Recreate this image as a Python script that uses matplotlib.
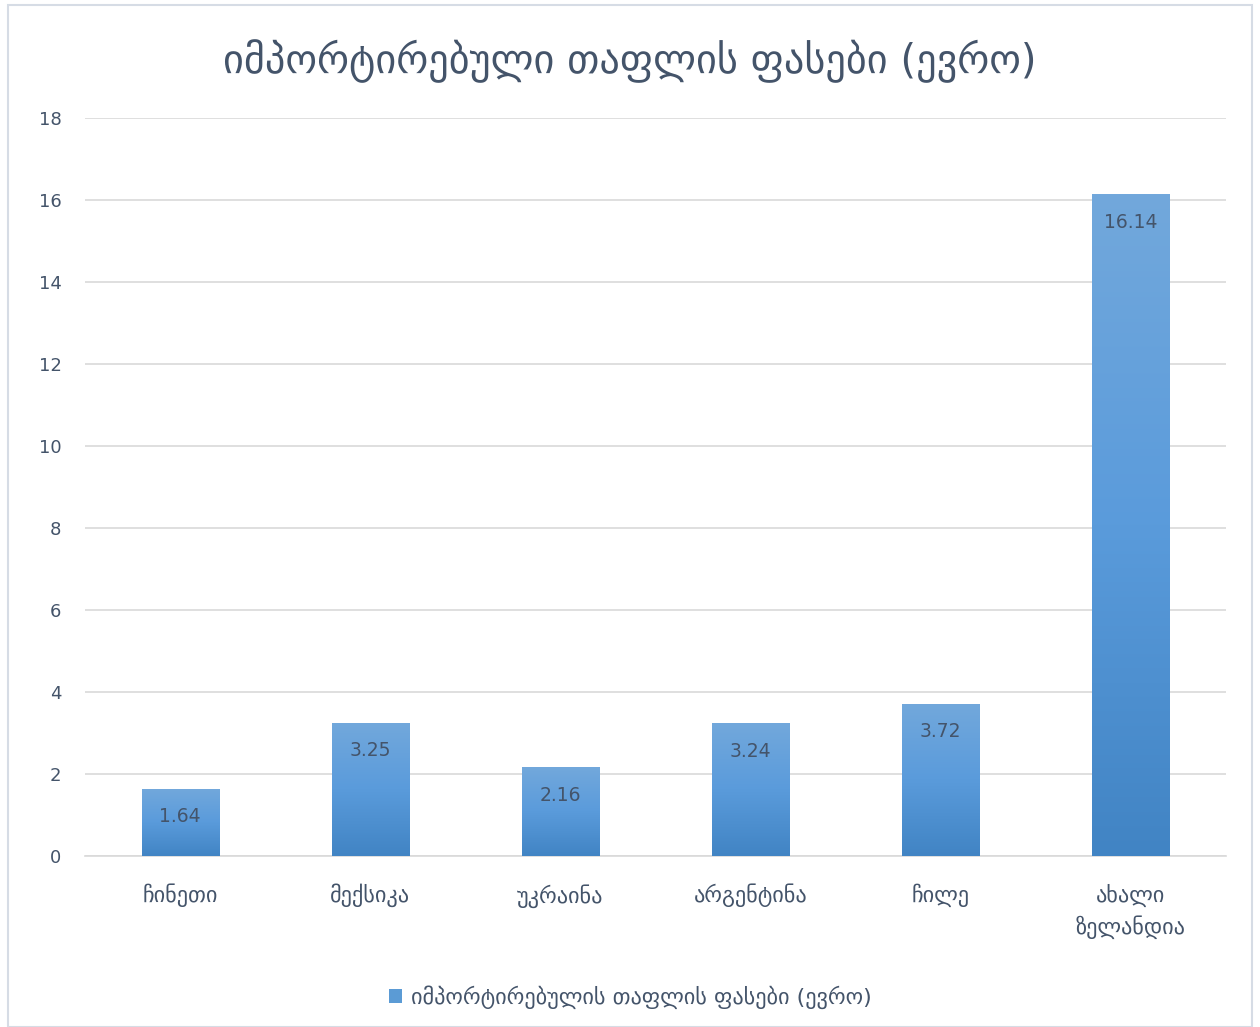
import numpy as np
import matplotlib.pyplot as plt
from matplotlib.patches import Rectangle
from matplotlib.colors import LinearSegmentedColormap

plt.rcParams['font.family'] = ['DejaVu Sans']

categories = ['ჩინეთი', 'მექსიკა', 'უკრაინა', 'არგენტინა', 'ჩილე', 'ახალი\nზელანდია']
prices = [1.64, 3.25, 2.16, 3.24, 3.72, 16.14]
title = 'იმპორტირებული თაფლის ფასები (ევრო)'
legend_label = 'იმპორტირებულის თაფლის ფასები (ევრო)'

text_col = '#44546a'
grid_col = '#d9d9d9'

fig = plt.figure(figsize=(12.6, 10.27), dpi=100)
ax = fig.add_axes([0.0675, 0.1665, 0.9055, 0.7185])

# outer border
fig.patches.append(Rectangle((0.006, 0.0), 0.988, 0.995, transform=fig.transFigure,
                             fill=False, edgecolor='#d6dce5', linewidth=1.5))

x = np.arange(len(categories))
bars = ax.bar(x, prices, width=0.405, color='#5b9bd5', zorder=2)

cmap = LinearSegmentedColormap.from_list('g', ['#4184c4', '#5a9bdb', '#72a8dc'])
grad = np.linspace(0, 1, 256).reshape(-1, 1)
for b in bars:
    bx, by = b.get_x(), b.get_y()
    w, h = b.get_width(), b.get_height()
    im = ax.imshow(grad, cmap=cmap, origin='lower', aspect='auto',
                   extent=[bx, bx + w, by, by + h], zorder=3)
    im.set_clip_path(b)
    ax.text(bx + w / 2, h - 0.68, f'{h:.2f}', ha='center', va='center',
            fontsize=13.5, color=text_col, zorder=4)

ax.set_xlim(-0.5, len(categories) - 0.5)
ax.set_ylim(0, 18)
ax.set_yticks(range(0, 19, 2))
ax.yaxis.grid(True, color=grid_col, linewidth=1.2, zorder=0)
ax.set_axisbelow(True)
for s in ['top', 'right', 'left']:
    ax.spines[s].set_visible(False)
ax.spines['bottom'].set_color(grid_col)
ax.spines['bottom'].set_linewidth(1.2)
ax.tick_params(length=0, labelsize=13, colors=text_col)
ax.tick_params(axis='y', pad=17)
ax.tick_params(axis='x', pad=20, labelsize=16)
ax.set_xticks(x)
ax.set_xticklabels(categories, linespacing=1.45)

fig.text(0.5, 0.94, title, ha='center', va='center', fontsize=29, color=text_col)

handle = Rectangle((0, 0), 1, 1, facecolor='#5b9bd5')
fig.legend([handle], [legend_label], loc='center', bbox_to_anchor=(0.5, 0.029),
           frameon=False, fontsize=16, handlelength=0.6, handleheight=0.6,
           handletextpad=0.4, labelcolor=text_col)

fig.savefig('out.png', dpi=100, facecolor='white')
